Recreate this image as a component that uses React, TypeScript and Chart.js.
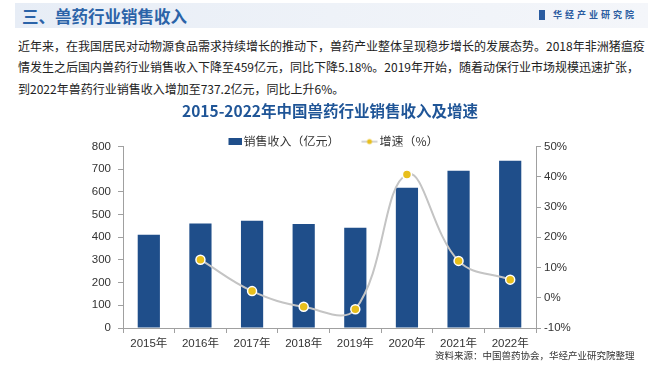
import React, { useEffect, useRef } from 'react';
import { Chart, registerables } from 'chart.js';

Chart.register(...registerables);

const categories = ['2015年', '2016年', '2017年', '2018年', '2019年', '2020年', '2021年', '2022年'];
const revenue = [411, 461, 473, 459, 442, 619, 694, 737.2];
const growth: (number | null)[] = [null, 12.6, 2.2, -3.0, -3.8, 40.8, 12.2, 6.0];
const revenueLabel = '销售收入（亿元）';
const growthLabel = '增速（%）';
const chartTitle = '2015-2022年中国兽药行业销售收入及增速';
const leftAxis = { min: 0, max: 800, step: 100 };
const rightAxis = { min: -10, max: 50, step: 10 };

const BAR = '#1f4e8a';
const LINE = '#c4c4c4';
const DOT = '#e8bf1c';
const AXIS = '#a0a0a0';
const FONT = '"Liberation Sans", "Noto Sans CJK SC", sans-serif';
const CJK = '"Noto Sans CJK SC", sans-serif';

// legend marker for the bars: visible 14x7 rectangle on the right of a 26px image
function rectImage() {
  const c = document.createElement('canvas');
  c.width = 26;
  c.height = 7;
  const ctx = c.getContext('2d')!;
  ctx.fillStyle = BAR;
  ctx.fillRect(12, 0, 14, 7);
  return c;
}

// legend marker for the line: visible 16px line with dot, right part of a 32px image
function lineDotImage() {
  const c = document.createElement('canvas');
  c.width = 32;
  c.height = 8;
  const ctx = c.getContext('2d')!;
  ctx.strokeStyle = LINE;
  ctx.lineWidth = 1.5;
  ctx.beginPath();
  ctx.moveTo(12, 4);
  ctx.lineTo(28, 4);
  ctx.stroke();
  ctx.fillStyle = DOT;
  ctx.beginPath();
  ctx.arc(20, 4, 2.5, 0, Math.PI * 2);
  ctx.fill();
  return c;
}

// tighten the space between the legend and the plot area
const legendTighten = {
  id: 'legendTighten',
  beforeLayout(chart: any) {
    const lg = chart.legend;
    if (lg && !lg.__tight) {
      const orig = lg.fit;
      lg.fit = function () {
        orig.call(this);
        this.height = Math.max(0, this.height - 11);
      };
      lg.__tight = true;
    }
  },
};

function ChartView() {
  const ref = useRef<HTMLCanvasElement>(null);
  useEffect(() => {
    if (!ref.current) return;
    const imgs = [rectImage(), lineDotImage()];
    const chart = new Chart(ref.current, {
      type: 'bar',
      data: {
        labels: categories,
        datasets: [
          {
            type: 'bar',
            label: revenueLabel,
            data: revenue,
            backgroundColor: BAR,
            yAxisID: 'y',
            order: 1,
            barPercentage: 0.86,
            categoryPercentage: 0.5,
          },
          {
            type: 'line',
            label: growthLabel,
            data: growth,
            yAxisID: 'y1',
            order: 0,
            borderColor: LINE,
            borderWidth: 2,
            tension: 0.4,
            pointRadius: 4.5,
            pointBackgroundColor: DOT,
            pointBorderColor: '#ffffff',
            pointBorderWidth: 1.5,
          } as any,
        ],
      },
      plugins: [legendTighten],
      options: {
        animation: false,
        responsive: false,
        maintainAspectRatio: false,
        layout: { padding: 0 },
        plugins: {
          tooltip: { enabled: false },
          title: {
            display: true,
            text: chartTitle,
            color: '#1f5597',
            font: { size: 15.5, weight: 'bold', family: CJK },
            padding: { top: 2, bottom: 15 },
          },
          legend: {
            display: true,
            labels: {
              usePointStyle: true,
              pointStyleWidth: 16,
              padding: 0,
              color: '#333333',
              font: { size: 12, family: CJK },
              generateLabels: (ch: any) =>
                ch.data.datasets.map((ds: any, i: number) => ({
                  text: i === 0 ? ds.label + '\u3000\u3000' : ds.label,
                  fillStyle: i === 0 ? BAR : DOT,
                  strokeStyle: i === 0 ? BAR : LINE,
                  lineWidth: 0,
                  hidden: false,
                  datasetIndex: i,
                  pointStyle: imgs[i],
                  fontColor: '#333333',
                })),
            },
          },
        },
        scales: {
          x: {
            offset: true,
            grid: { drawOnChartArea: false, offset: true, color: AXIS, tickLength: 5 },
            border: { color: AXIS },
            ticks: { color: '#333333', font: { size: 11.5, family: FONT }, padding: 4, maxRotation: 0 },
            afterFit: (s: any) => { s.height = 39; },
          },
          y: {
            position: 'left',
            min: leftAxis.min,
            max: leftAxis.max,
            ticks: { stepSize: leftAxis.step, color: '#333333', font: { size: 11.5, family: FONT }, padding: 7 },
            grid: { drawOnChartArea: false, color: AXIS, tickLength: 5 },
            border: { color: AXIS },
            afterFit: (s: any) => { s.width = 123; },
          },
          y1: {
            position: 'right',
            min: rightAxis.min,
            max: rightAxis.max,
            ticks: {
              stepSize: rightAxis.step,
              color: '#333333',
              font: { size: 11.5, family: FONT },
              padding: 3,
              callback: (v: any) => v + '%',
            },
            grid: { drawOnChartArea: false, color: AXIS, tickLength: 5 },
            border: { color: AXIS },
            afterFit: (s: any) => { s.width = 124; },
          },
        },
      } as any,
    });
    return () => chart.destroy();
  }, []);
  return <canvas ref={ref} width={660} height={267} style={{ position: 'absolute', left: 0, top: 100, width: 660, height: 267 }} />;
}

const para = [
  '近年来，在我国居民对动物源食品需求持续增长的推动下，兽药产业整体呈现稳步增长的发展态势。2018年非洲猪瘟疫',
  '情发生之后国内兽药行业销售收入下降至459亿元，同比下降5.18%。2019年开始，随着动保行业市场规模迅速扩张，',
  '到2022年兽药行业销售收入增加至737.2亿元，同比上升6%。',
];

export default function App() {
  useEffect(() => {
    document.body.style.margin = '0';
  }, []);
  return (
    <div style={{ position: 'absolute', left: 0, top: 0, width: 660, height: 367, background: '#fff', overflow: 'hidden', fontFamily: CJK }}>
      <div style={{ position: 'absolute', left: 15, top: 3, width: 633, height: 25, background: 'linear-gradient(to right, #e7edf6, #eef2f8 50%, #f4f6fa)' }} />
      <div style={{ position: 'absolute', left: 22, top: 4, fontSize: 16.5, fontWeight: 'bold', color: '#2b63a8', lineHeight: '24px', whiteSpace: 'nowrap' }}>三、兽药行业销售收入</div>
      <div style={{ position: 'absolute', left: 539, top: 10, width: 6, height: 10, background: '#2a5ca0' }} />
      <div style={{ position: 'absolute', left: 553, top: 8, fontSize: 9, fontWeight: 'bold', color: '#2a5ca0', letterSpacing: 3, lineHeight: '14px', whiteSpace: 'nowrap' }}>华经产业研究院</div>
      {para.map((t, i) => (
        <div key={i} style={{ position: 'absolute', left: 18, top: 36 + i * 21.3, fontSize: 12, color: '#222', lineHeight: '20px', whiteSpace: 'nowrap' }}>{t}</div>
      ))}
      <ChartView />
      <div style={{ position: 'absolute', left: 435, top: 348, fontSize: 9.5, color: '#333', lineHeight: '14px', whiteSpace: 'nowrap' }}>资料来源：中国兽药协会，华经产业研究院整理</div>
    </div>
  );
}
